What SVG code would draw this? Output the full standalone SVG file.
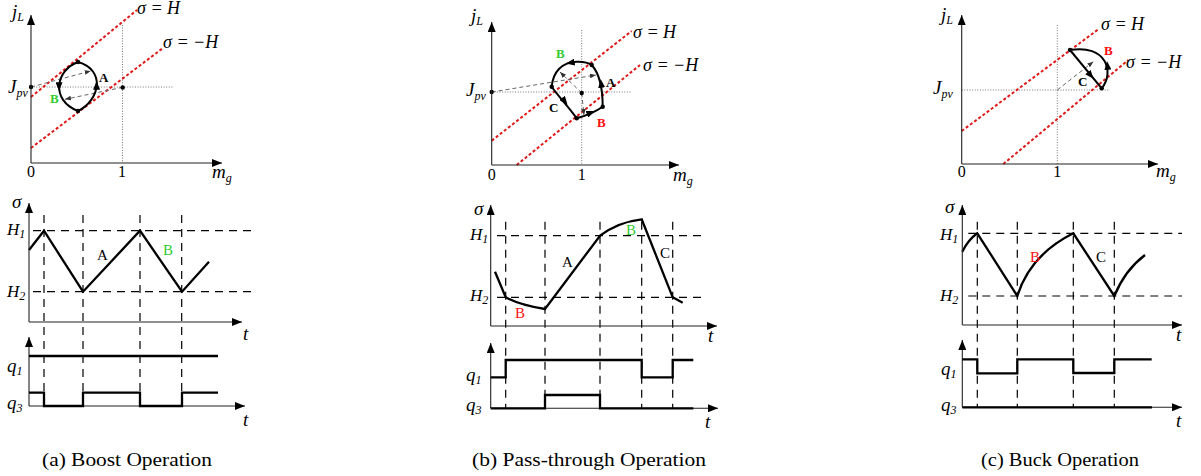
<svg xmlns="http://www.w3.org/2000/svg" width="1201" height="476" viewBox="0 0 1201 476">
<style>
.ax{stroke:#222;stroke-width:1.1;fill:none}
.axa{stroke:#222;stroke-width:1.1;fill:none;marker-end:url(#ah)}
.wave{stroke:#000;stroke-width:2.3;fill:none;stroke-linejoin:miter}
.loop{stroke:#000;stroke-width:2;fill:none}
.vd{stroke:#000;stroke-width:1.2;stroke-dasharray:8,6;fill:none}
.hd{stroke:#000;stroke-width:1.2;stroke-dasharray:8,6;fill:none}
.red{stroke:#e01818;stroke-width:2;stroke-dasharray:3,2.2;fill:none}
.dot{stroke:#777;stroke-width:1;stroke-dasharray:1,1.6;fill:none}
.gd{stroke:#666;stroke-width:1;stroke-dasharray:4,3;fill:none;marker-end:url(#sa)}
.la{stroke:none;fill:none;marker-end:url(#la)}
.it{font-family:"Liberation Serif",serif;font-style:italic;font-size:19px;fill:#000}
.sg{font-size:18px}
.h{font-size:17px}
.sub{font-size:12px}
.num{font-family:"Liberation Serif",serif;font-size:16px;fill:#000;text-anchor:middle}
.lb{font-family:"Liberation Serif",serif;font-weight:bold;font-size:13px;fill:#000}
.wl{font-family:"Liberation Serif",serif;font-size:15px;fill:#000}
.cap{font-family:"Liberation Serif",serif;font-size:18px;fill:#000}
.g{fill:#33cc33}
.r{fill:#ff1010}
</style>
<defs>
<marker id="ah" viewBox="0 0 10 8" refX="10" refY="4" markerWidth="10" markerHeight="8" markerUnits="userSpaceOnUse" orient="auto"><path d="M0,0 L10,4 L0,8 z" fill="#000"/></marker>
<marker id="sa" viewBox="0 0 10 8" refX="10" refY="4" markerWidth="6" markerHeight="5" markerUnits="userSpaceOnUse" orient="auto"><path d="M0,0 L10,4 L0,8 z" fill="#333"/></marker>
<marker id="la" viewBox="0 0 10 8" refX="10" refY="4" markerWidth="9" markerHeight="7" markerUnits="userSpaceOnUse" orient="auto"><path d="M0,0 L10,4 L0,8 z" fill="#000"/></marker>
</defs>

<!-- ============ Panel (a) ============ -->
<g id="panel-a-phase">
<line class="dot" x1="31" y1="87" x2="174" y2="87"/>
<line class="dot" x1="122.5" y1="25" x2="122.5" y2="163"/>
<line class="red" x1="31" y1="97" x2="137" y2="10"/>
<line class="red" x1="31" y1="148" x2="163" y2="48"/>
<line class="gd" x1="31" y1="87" x2="90.7" y2="71"/>
<line class="gd" x1="122.7" y1="87.3" x2="65" y2="99.3"/>
<path class="loop" d="M78,62 C56,70 50,100 78,111"/>
<path class="loop" d="M78,111 C100,100 106,70 78,62"/>
<path class="la" d="M59,82 L59,91"/>
<path class="la" d="M96.6,91 L96.6,81"/>
<circle cx="78" cy="62" r="2.2"/>
<circle cx="78" cy="111" r="2.2"/>
<circle cx="31" cy="87" r="2.2"/>
<circle cx="122.7" cy="87.5" r="2.2"/>
<line class="axa" x1="31" y1="163" x2="31" y2="15"/>
<line class="axa" x1="31" y1="163" x2="222" y2="163"/>
<text class="it" x="12" y="18">j<tspan class="sub" dy="3">L</tspan></text>
<text class="it" x="8" y="93">J<tspan class="sub" dy="4">pv</tspan></text>
<text class="num" x="31" y="177">0</text>
<text class="num" x="122" y="177">1</text>
<text class="it" x="212" y="178">m<tspan class="sub" dy="4">g</tspan></text>
<text class="it sg" x="137" y="14">σ = H</text>
<text class="it sg" x="163" y="48">σ = −H</text>
<text class="lb" x="99" y="82">A</text>
<text class="lb g" x="50" y="103">B</text>
</g>
<g id="panel-a-sigma">
<line class="hd" x1="33" y1="230.7" x2="253" y2="230.7"/>
<line class="hd" x1="33" y1="291.7" x2="253" y2="291.7"/>
<line class="vd" x1="44" y1="215" x2="44" y2="407"/>
<line class="vd" x1="83" y1="215" x2="83" y2="407"/>
<line class="vd" x1="140" y1="215" x2="140" y2="407"/>
<line class="vd" x1="181.7" y1="215" x2="181.7" y2="407"/>
<polyline class="wave" points="29,250 44,230.7 83,291.7 140,230.7 182,291.7 209,261.7"/>
<line class="axa" x1="29" y1="322" x2="29" y2="203"/>
<line class="axa" x1="29" y1="322" x2="242" y2="322"/>
<text class="it" x="12" y="208">σ</text>
<text class="it h" x="7" y="235">H<tspan class="sub" dy="3">1</tspan></text>
<text class="it h" x="7" y="297">H<tspan class="sub" dy="3">2</tspan></text>
<text class="it" x="243" y="340">t</text>
<text class="wl" x="97" y="260">A</text>
<text class="wl g" x="163" y="255">B</text>
</g>
<g id="panel-a-switch">
<line class="axa" x1="29" y1="406" x2="29" y2="337"/>
<line class="axa" x1="29" y1="406" x2="245" y2="406"/>
<path class="wave" d="M29,356 H218"/>
<path class="wave" d="M29,392.7 H44 V406 H83 V392.7 H140 V406 H182 V392.7 H218"/>
<text class="it" x="7" y="372">q<tspan class="sub" dy="3">1</tspan></text>
<text class="it" x="7" y="409">q<tspan class="sub" dy="3">3</tspan></text>
<text class="it" x="243" y="426">t</text>
</g>

<!-- ============ Panel (b) ============ -->
<g id="panel-b-phase">
<line class="dot" x1="491.7" y1="92" x2="631.7" y2="92"/>
<line class="dot" x1="581.7" y1="30" x2="581.7" y2="165"/>
<line class="red" x1="491.7" y1="140.7" x2="631.7" y2="31"/>
<line class="red" x1="516.7" y1="165" x2="640" y2="65"/>
<line class="gd" x1="491.7" y1="92" x2="596" y2="75"/>
<line class="gd" x1="581.7" y1="93" x2="560" y2="72"/>
<line class="gd" x1="581.7" y1="93" x2="584" y2="115"/>
<path class="loop" d="M551.7,86.7 C553,72 562,62 576.7,61.7 C584,61.5 589,63 591.7,65"/>
<path class="loop" d="M591.7,65 C598,72 602.7,85 602.7,106.7"/>
<path class="loop" d="M551.7,86.7 C558,96 568,106 576.7,118.3"/>
<path class="loop" d="M576.7,118.3 C585,116 595,112 602.7,106.7"/>
<path class="la" d="M575,62 L566,63.5"/>
<path class="la" d="M602,90 L600.6,79"/>
<path class="la" d="M561,96.5 L567.5,104.8"/>
<path class="la" d="M585,115 L595,111"/>
<circle cx="551.7" cy="86.7" r="2.2"/>
<circle cx="591.7" cy="65" r="2.2"/>
<circle cx="602.7" cy="106.7" r="2.2"/>
<circle cx="576.7" cy="118.3" r="2.2"/>
<circle cx="581.7" cy="93" r="2.2"/>
<circle cx="491.7" cy="92" r="2.2"/>
<line class="axa" x1="491.7" y1="165" x2="491.7" y2="22"/>
<line class="axa" x1="491.7" y1="165" x2="679" y2="165"/>
<text class="it" x="471" y="22">j<tspan class="sub" dy="3">L</tspan></text>
<text class="it" x="466" y="96">J<tspan class="sub" dy="4">pv</tspan></text>
<text class="num" x="491.7" y="180">0</text>
<text class="num" x="581.7" y="180">1</text>
<text class="it" x="673" y="181">m<tspan class="sub" dy="4">g</tspan></text>
<text class="it sg" x="633" y="38">σ = H</text>
<text class="it sg" x="643" y="71">σ = −H</text>
<text class="lb g" x="556" y="58">B</text>
<text class="lb" x="606" y="87">A</text>
<text class="lb" x="549" y="112">C</text>
<text class="lb r" x="597" y="127">B</text>
</g>
<g id="panel-b-sigma">
<line class="hd" x1="497" y1="235.7" x2="702" y2="235.7"/>
<line class="hd" x1="497" y1="297.3" x2="702" y2="297.3"/>
<line class="vd" x1="505.7" y1="221.7" x2="505.7" y2="408"/>
<line class="vd" x1="545" y1="221.7" x2="545" y2="408"/>
<line class="vd" x1="600" y1="221.7" x2="600" y2="408"/>
<line class="vd" x1="641.7" y1="221.7" x2="641.7" y2="408"/>
<line class="vd" x1="672.7" y1="221.7" x2="672.7" y2="408"/>
<path class="wave" d="M495,271.7 L505.7,297.3 Q520,305 545,309 L600,235.7 Q618,222 641.7,219.3 L672.7,297.3 L682.7,302.7"/>
<line class="axa" x1="490.7" y1="326" x2="490.7" y2="205"/>
<line class="axa" x1="490.7" y1="326" x2="717" y2="326"/>
<text class="it" x="474" y="215">σ</text>
<text class="it h" x="470" y="240">H<tspan class="sub" dy="3">1</tspan></text>
<text class="it h" x="470" y="301">H<tspan class="sub" dy="3">2</tspan></text>
<text class="it" x="708" y="342">t</text>
<text class="wl" x="562" y="267">A</text>
<text class="wl g" x="626" y="235">B</text>
<text class="wl" x="660" y="258">C</text>
<text class="wl r" x="515" y="318">B</text>
</g>
<g id="panel-b-switch">
<line class="axa" x1="490.7" y1="408.3" x2="490.7" y2="343"/>
<line class="axa" x1="490.7" y1="408.3" x2="718" y2="408.3"/>
<path class="wave" d="M490.7,377.3 H505.7 V360 H641.7 V377.3 H672.7 V360 H693.3"/>
<path class="wave" d="M490.7,408.3 H545 V395 H600 V408.3 H693.3"/>
<text class="it" x="466" y="381">q<tspan class="sub" dy="3">1</tspan></text>
<text class="it" x="466" y="411">q<tspan class="sub" dy="3">3</tspan></text>
<text class="it" x="705" y="428">t</text>
</g>

<!-- ============ Panel (c) ============ -->
<g id="panel-c-phase">
<line class="dot" x1="961.7" y1="90" x2="1110" y2="90"/>
<line class="dot" x1="1057.3" y1="25" x2="1057.3" y2="164"/>
<line class="red" x1="961.7" y1="131" x2="1098.3" y2="29.3"/>
<line class="red" x1="1003.3" y1="164" x2="1128.3" y2="60"/>
<line class="gd" x1="1057.3" y1="90" x2="1093.3" y2="61.7"/>
<path class="loop" d="M1101.7,88.3 C1115,72 1106,44 1070,50"/>
<path class="loop" d="M1070,50 L1101.7,88.3"/>
<path class="la" d="M1087,71 L1093.5,78.8"/>
<path class="la" d="M1108,71 L1107,61"/>
<circle cx="1070" cy="50" r="2.2"/>
<circle cx="1101.7" cy="88.3" r="2.2"/>
<line class="axa" x1="961.7" y1="164" x2="961.7" y2="15"/>
<line class="axa" x1="961.7" y1="164" x2="1158" y2="164"/>
<text class="it" x="941" y="21">j<tspan class="sub" dy="3">L</tspan></text>
<text class="it" x="933" y="94">J<tspan class="sub" dy="4">pv</tspan></text>
<text class="num" x="961.7" y="177">0</text>
<text class="num" x="1057.3" y="177">1</text>
<text class="it" x="1156" y="177">m<tspan class="sub" dy="4">g</tspan></text>
<text class="it sg" x="1101" y="30">σ = H</text>
<text class="it sg" x="1126" y="68">σ = −H</text>
<text class="lb r" x="1104" y="55">B</text>
<text class="lb" x="1078" y="86">C</text>
</g>
<g id="panel-c-sigma">
<line class="hd" x1="968.3" y1="233.3" x2="1182" y2="233.3"/>
<line class="hd" x1="968.3" y1="296" x2="1182" y2="296"/>
<line class="vd" x1="977.3" y1="221.7" x2="977.3" y2="407"/>
<line class="vd" x1="1017.3" y1="221.7" x2="1017.3" y2="407"/>
<line class="vd" x1="1073.3" y1="221.7" x2="1073.3" y2="407"/>
<line class="vd" x1="1114.3" y1="221.7" x2="1114.3" y2="407"/>
<path class="wave" d="M962.3,251.7 Q968,240 977.3,233.3 L1017.3,296 Q1030,255 1073.3,233.3 L1114.3,296 Q1125,270 1145,255"/>
<line class="axa" x1="962.3" y1="325" x2="962.3" y2="205"/>
<line class="axa" x1="962.3" y1="325" x2="1182" y2="325"/>
<text class="it" x="945" y="213">σ</text>
<text class="it h" x="940" y="240">H<tspan class="sub" dy="3">1</tspan></text>
<text class="it h" x="940" y="301">H<tspan class="sub" dy="3">2</tspan></text>
<text class="it" x="1176" y="341">t</text>
<text class="wl r" x="1030" y="262">B</text>
<text class="wl" x="1096" y="262">C</text>
</g>
<g id="panel-c-switch">
<line class="axa" x1="962.3" y1="407.3" x2="962.3" y2="340"/>
<line class="axa" x1="962.3" y1="407.3" x2="1182" y2="407.3"/>
<path class="wave" d="M962.3,359.3 H977.3 V373.3 H1017.3 V359.3 H1073.3 V373 H1114.3 V359.3 H1151.7"/>
<path class="wave" d="M962.3,407.3 H1152"/>
<text class="it" x="941" y="375">q<tspan class="sub" dy="3">1</tspan></text>
<text class="it" x="941" y="411">q<tspan class="sub" dy="3">3</tspan></text>
<text class="it" x="1176" y="427">t</text>
</g>

<g id="captions">
<text class="cap" x="42" y="466" textLength="170" lengthAdjust="spacingAndGlyphs">(a) Boost Operation</text>
<text class="cap" x="472" y="466" textLength="234" lengthAdjust="spacingAndGlyphs">(b) Pass-through Operation</text>
<text class="cap" x="981" y="466" textLength="158" lengthAdjust="spacingAndGlyphs">(c) Buck Operation</text>
</g>
</svg>
